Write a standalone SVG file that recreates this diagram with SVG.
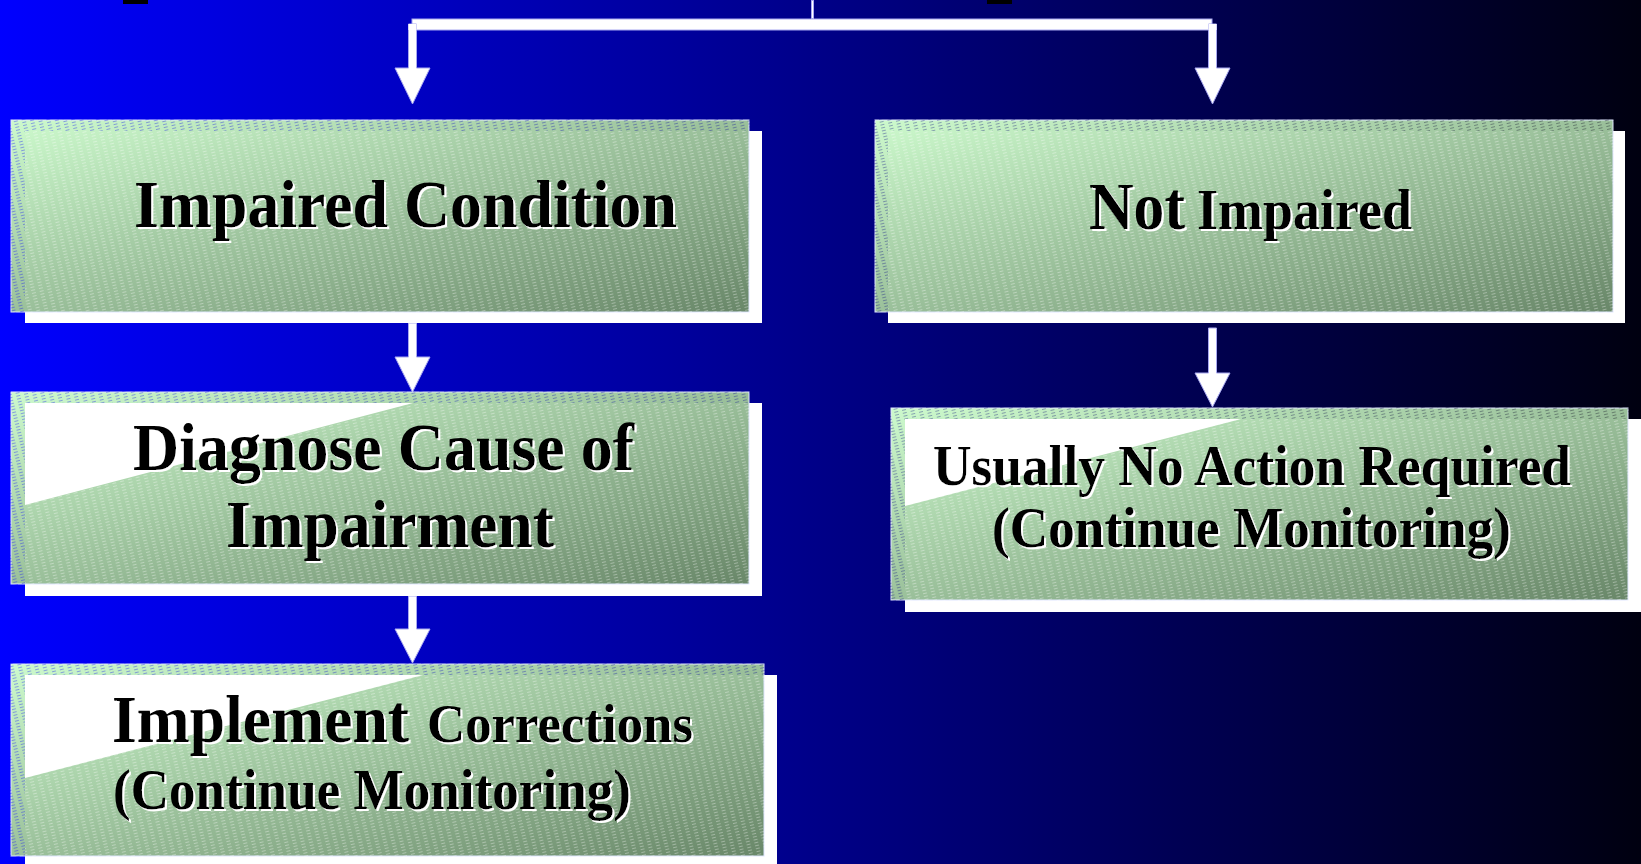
<svg xmlns="http://www.w3.org/2000/svg" width="1641" height="864" viewBox="0 0 1641 864">
<style>
.box{stroke:#dfe6ff;stroke-width:1}
.shadow{fill:#ffffff}
.cut{fill:#ffffff}
.t{font-family:"Liberation Serif","Times New Roman",serif;font-weight:bold;fill:#000000}
.conn{fill:#ffffff;stroke:#a8a8f0;stroke-width:1}
</style>
<defs>
<linearGradient id="bg" x1="0" y1="0" x2="1" y2="0">
<stop offset="0" stop-color="#0000ff"/>
<stop offset="1" stop-color="#000010"/>
</linearGradient>
<linearGradient id="g" x1="0" y1="0" x2="1" y2="1">
<stop offset="0" stop-color="#cdfacd"/>
<stop offset="1" stop-color="#698769"/>
</linearGradient>
<pattern id="hatch" width="8" height="3" patternUnits="userSpaceOnUse" patternTransform="rotate(-14)">
<rect width="8" height="3" fill="#ffffff"/>
<rect x="0" y="1" width="4" height="1" fill="#a8a8a8"/>
</pattern>
<mask id="hm" maskUnits="userSpaceOnUse" x="0" y="0" width="1641" height="864">
<rect width="1641" height="864" fill="url(#hatch)"/>
</mask>
<filter id="ts" x="-5%" y="-20%" width="110%" height="140%">
<feDropShadow dx="2" dy="2" stdDeviation="0" flood-color="#ffffff" flood-opacity="1"/>
</filter>
</defs>
<rect width="1641" height="864" fill="url(#bg)"/>
<rect x="123" y="0" width="25" height="4" fill="#000000"/>
<rect x="987" y="0" width="25" height="4" fill="#000000"/>

<g id="connectors">
<rect x="811.5" y="0" width="2" height="19" class="conn"/>
<rect x="412" y="19" width="800" height="11" class="conn"/>
<polygon class="conn" points="408.5,24 416.5,24 416.5,68 430,68 412.5,104 395,68 408.5,68"/>
<polygon class="conn" points="1208.5,24 1216.5,24 1216.5,68 1230,68 1212.5,104 1195,68 1208.5,68"/>
<rect x="408.5" y="24" width="8" height="6" fill="#ffffff"/>
<rect x="1208.5" y="24" width="8" height="6" fill="#ffffff"/>
<polygon class="conn" points="408.5,323 416.5,323 416.5,357 430,357 412.5,392 395,357 408.5,357"/>
<polygon class="conn" points="408.5,596 416.5,596 416.5,629 430,629 412.5,663 395,629 408.5,629"/>
<polygon class="conn" points="1208.5,328 1216.5,328 1216.5,373 1230,373 1212.5,407 1195,373 1208.5,373"/>
</g>

<g id="impaired-condition">
<rect class="shadow" x="25" y="131" width="737" height="192"/>
<rect class="box" x="11" y="120" width="738" height="192" fill="url(#g)" mask="url(#hm)"/>
<text class="t" x="134" y="227" font-size="68" textLength="543" lengthAdjust="spacingAndGlyphs" filter="url(#ts)">Impaired Condition</text>
</g>

<g id="diagnose-cause">
<rect class="shadow" x="25" y="403" width="737" height="193"/>
<rect class="box" x="11" y="392" width="738" height="192" fill="url(#g)" mask="url(#hm)"/>
<polygon class="cut" points="25,403 413,403 25,505"/>
<text class="t" x="133" y="470" font-size="68" textLength="501" lengthAdjust="spacingAndGlyphs" filter="url(#ts)">Diagnose Cause of</text>
<text class="t" x="226" y="547" font-size="68" textLength="328" lengthAdjust="spacingAndGlyphs" filter="url(#ts)">Impairment</text>
</g>

<g id="implement-corrections">
<rect class="shadow" x="25" y="675" width="752" height="192"/>
<rect class="box" x="11" y="664" width="753" height="192" fill="url(#g)" mask="url(#hm)"/>
<polygon class="cut" points="25,675 423,675 25,778"/>
<text class="t" x="112" y="742" font-size="68" textLength="297" lengthAdjust="spacingAndGlyphs" filter="url(#ts)">Implement</text>
<text class="t" x="427" y="742" font-size="55" textLength="266" lengthAdjust="spacingAndGlyphs" filter="url(#ts)">Corrections</text>
<text class="t" x="113" y="809" font-size="56" textLength="518" lengthAdjust="spacingAndGlyphs" filter="url(#ts)">(Continue Monitoring)</text>
</g>

<g id="not-impaired">
<rect class="shadow" x="888" y="131" width="737" height="192"/>
<rect class="box" x="875" y="120" width="738" height="192" fill="url(#g)" mask="url(#hm)"/>
<text class="t" x="1089" y="229" font-size="68" textLength="96" lengthAdjust="spacingAndGlyphs" filter="url(#ts)">Not</text>
<text class="t" x="1197" y="229" font-size="56" textLength="215" lengthAdjust="spacingAndGlyphs" filter="url(#ts)">Impaired</text>
</g>

<g id="no-action">
<rect class="shadow" x="905" y="419" width="737" height="193"/>
<rect class="box" x="891" y="408" width="737" height="192" fill="url(#g)" mask="url(#hm)"/>
<polygon class="cut" points="905,419 1241,419 905,506"/>
<text class="t" x="933" y="485" font-size="56" textLength="638" lengthAdjust="spacingAndGlyphs" filter="url(#ts)">Usually No Action Required</text>
<text class="t" x="992" y="547" font-size="56" textLength="519" lengthAdjust="spacingAndGlyphs" filter="url(#ts)">(Continue Monitoring)</text>
</g>
</svg>
